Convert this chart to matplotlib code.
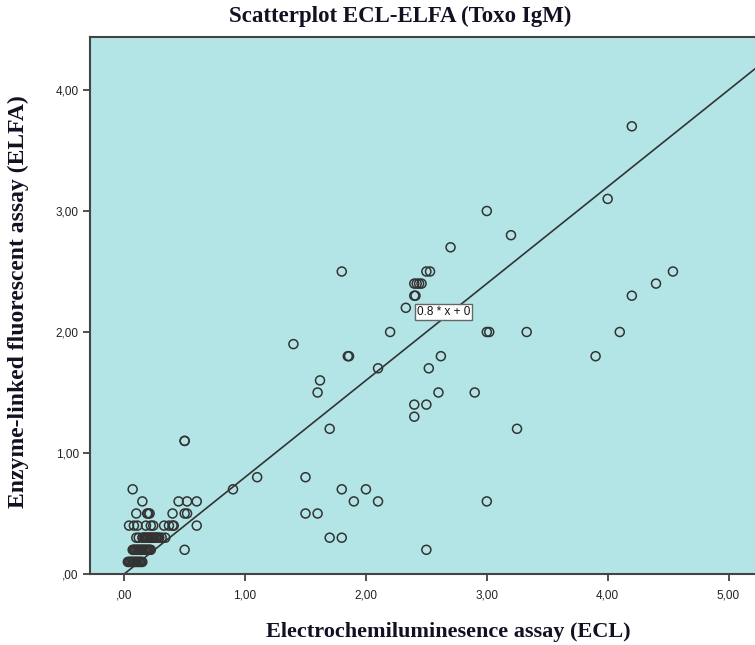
import matplotlib
matplotlib.use("Agg")
import matplotlib.pyplot as plt

# ECL (x) vs ELFA (y) values
ecl = [
    # y = 0.1 row
    0.03, 0.04, 0.05, 0.06, 0.07, 0.08, 0.09, 0.10, 0.11, 0.12, 0.13, 0.14, 0.15,
    # y = 0.2 row
    0.07, 0.08, 0.09, 0.10, 0.11, 0.12, 0.13, 0.14, 0.15, 0.16, 0.17, 0.18,
    0.19, 0.20, 0.21, 0.22, 0.50,
    # y = 0.3 row
    0.10, 0.12, 0.15, 0.16, 0.17, 0.18, 0.19, 0.20, 0.21, 0.22, 0.23, 0.24,
    0.25, 0.26, 0.27, 0.28, 0.29, 0.31, 0.34,
    # y = 0.4 row
    0.04, 0.08, 0.11, 0.18, 0.22, 0.24, 0.33, 0.37, 0.40, 0.41, 0.60,
    # y = 0.5 row
    0.10, 0.19, 0.20, 0.21, 0.40, 0.50, 0.52,
    # y = 0.6 row
    0.15, 0.45, 0.52, 0.60,
    # others low
    0.07, 0.50, 0.50,
    # mid / high
    0.90, 1.10, 1.40, 1.62, 1.60, 1.50, 1.50, 1.60, 1.70, 1.70,
    1.80, 1.80, 1.80, 1.85, 1.86, 1.90, 2.00, 2.10, 2.10, 2.20,
    2.33, 2.40, 2.41, 2.40, 2.42, 2.44, 2.46, 2.50, 2.53, 2.40,
    2.40, 2.50, 2.52, 2.60, 2.62, 2.70, 2.90, 2.50, 3.00, 3.00,
    3.02, 3.00, 3.20, 3.25, 3.33, 3.90, 4.00, 4.10, 4.20, 4.20,
    4.40, 4.54,
]
elfa = [
    0.1, 0.1, 0.1, 0.1, 0.1, 0.1, 0.1, 0.1, 0.1, 0.1, 0.1, 0.1, 0.1,
    0.2, 0.2, 0.2, 0.2, 0.2, 0.2, 0.2, 0.2, 0.2, 0.2, 0.2, 0.2,
    0.2, 0.2, 0.2, 0.2, 0.2,
    0.3, 0.3, 0.3, 0.3, 0.3, 0.3, 0.3, 0.3, 0.3, 0.3, 0.3, 0.3,
    0.3, 0.3, 0.3, 0.3, 0.3, 0.3, 0.3,
    0.4, 0.4, 0.4, 0.4, 0.4, 0.4, 0.4, 0.4, 0.4, 0.4, 0.4,
    0.5, 0.5, 0.5, 0.5, 0.5, 0.5, 0.5,
    0.6, 0.6, 0.6, 0.6,
    0.7, 1.1, 1.1,
    0.7, 0.8, 1.9, 1.6, 1.5, 0.8, 0.5, 0.5, 1.2, 0.3,
    2.5, 0.7, 0.3, 1.8, 1.8, 0.6, 0.7, 1.7, 0.6, 2.0,
    2.2, 2.3, 2.3, 2.4, 2.4, 2.4, 2.4, 2.5, 2.5, 1.4,
    1.3, 1.4, 1.7, 1.5, 1.8, 2.7, 1.5, 0.2, 3.0, 2.0,
    2.0, 0.6, 2.8, 1.2, 2.0, 1.8, 3.1, 2.0, 3.7, 2.3,
    2.4, 2.5,
]

slope = 0.8
intercept = 0.0
fit_label = "0.8 * x + 0"

x_ticks = [0, 1, 2, 3, 4, 5]
x_labels = [",00", "1,00", "2,00", "3,00", "4,00", "5,00"]
y_ticks = [0, 1, 2, 3, 4]
y_labels = [",00", "1,00", "2,00", "3,00", "4,00"]

title = "Scatterplot ECL-ELFA (Toxo IgM)"
xlabel = "Electrochemiluminesence assay (ECL)"
ylabel = "Enzyme-linked fluorescent assay (ELFA)"

W, H = 755, 645
fig = plt.figure(figsize=(W / 100, H / 100), dpi=100)
ax = fig.add_axes([90 / W, 1 - 574 / H, (760 - 90) / W, (574 - 37) / H])
ax.set_facecolor("#b4e5e6")

xmin, xmax = -0.283, (760 - 123.5) / 121
ymin, ymax = 0.0, (574 - 37) / 121
ax.set_xlim(xmin, xmax)
ax.set_ylim(ymin, ymax)

ax.scatter(ecl, elfa, s=42, facecolors="none", edgecolors="#333333",
           linewidths=1.1, zorder=3, clip_on=False)

ax.plot([0, xmax], [intercept, intercept + slope * xmax], color="#333333",
        lw=1.2, zorder=2)

ax.text(2.645, 2.165, fit_label, fontsize=8.5, family="Liberation Sans",
        ha="center", va="center", color="#111111", zorder=4,
        bbox=dict(boxstyle="square,pad=0.15", fc="white", ec="#666666", lw=1))

ax.set_xticks(x_ticks)
ax.set_xticklabels(x_labels)
ax.set_yticks(y_ticks)
ax.set_yticklabels(y_labels)
for lab in ax.get_xticklabels() + ax.get_yticklabels():
    lab.set_family("Liberation Sans")
    lab.set_fontsize(8.5)
    lab.set_color("#222222")
ax.tick_params(direction="out", length=5, width=1.2, color="#333333", pad=3)
ax.tick_params(axis="x", pad=6)

for side in ["left", "bottom", "top", "right"]:
    ax.spines[side].set_color("#444444")
    ax.spines[side].set_linewidth(1.5)

fig.text(400 / W, 1 - 16 / H, title, ha="center", va="center",
         fontsize=16.5, fontweight="bold", family="Liberation Serif",
         color="#111122")
fig.text(448 / W, 1 - 632 / H, xlabel, ha="center", va="center",
         fontsize=16, fontweight="bold", family="Liberation Serif",
         color="#111122")
fig.text(18 / W, 1 - 302 / H, ylabel, ha="center", va="center",
         rotation=90, fontsize=17, fontweight="bold",
         family="Liberation Serif", color="#111122")

fig.savefig("out.png", dpi=100)
